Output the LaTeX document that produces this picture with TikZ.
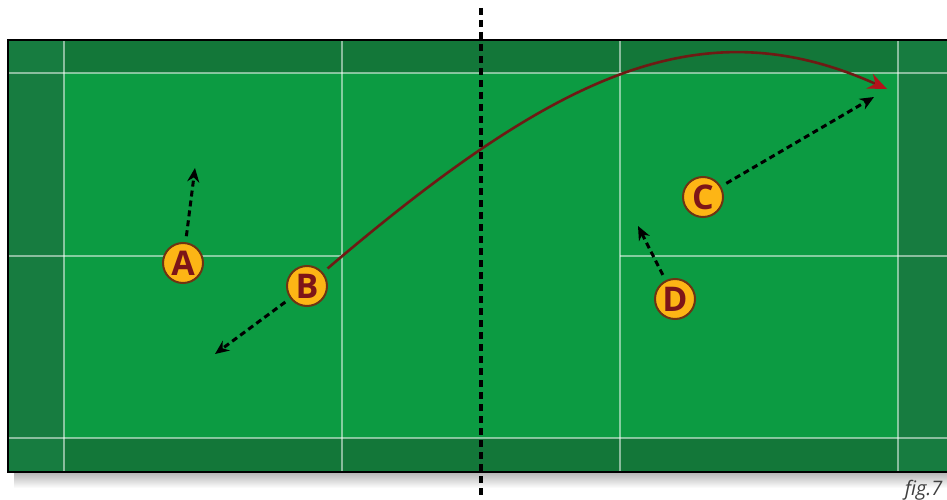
\documentclass[tikz,border=0pt]{standalone}
\usepackage{fontspec}
\setsansfont{Open Sans}
\usetikzlibrary{arrows.meta}
\definecolor{courtgreen}{HTML}{0C9B42}
\definecolor{bandgreen}{HTML}{177C40}
\definecolor{topgreen}{HTML}{137739}
\definecolor{playerfill}{HTML}{FDB515}
\definecolor{rimbrown}{HTML}{6E3413}
\definecolor{lettermaroon}{HTML}{7D1518}
\definecolor{shotred}{HTML}{6E1A14}
\definecolor{tipred}{HTML}{B3121A}
\tikzstyle{player} = [circle, minimum size=40pt, inner sep=0pt, draw=rimbrown, line width=2pt, fill=playerfill, text=lettermaroon, font=\sffamily\bfseries\fontsize{34}{34}\selectfont]
\tikzstyle{move} = [line width=3pt, dash pattern=on 6pt off 4pt, shorten <=6pt, -{Stealth[length=14pt,width=12pt]}]
\tikzstyle{shot} = [line width=2.6pt, shotred, shorten <=6pt, -{Stealth[length=19pt,width=16pt,color=tipred]}]
\tikzstyle{courtline} = [white, opacity=0.5, line width=1.4pt]
\tikzstyle{net} = [line width=4pt, dash pattern=on 7pt off 5pt]

\begin{document}
\begin{tikzpicture}[x=1pt, y=-1pt]
\useasboundingbox (0,0) rectangle (947,500);
% court
\shade[top color=black!30, bottom color=white] (14,472) rectangle (960,488);
\fill[courtgreen] (8,40) rectangle (960,472);
\fill[topgreen] (8,40) rectangle (960,73);
\fill[topgreen] (8,438) rectangle (960,472);
\fill[bandgreen] (8,40) rectangle (64,472);
\fill[bandgreen] (898,40) rectangle (960,472);
\draw[courtline] (8,73) -- (960,73);
\draw[courtline] (8,438) -- (960,438);
\draw[courtline] (8,256) -- (342,256);
\draw[courtline] (620,256) -- (960,256);
\foreach \x in {64,342,620,898}
  \draw[courtline] (\x,40) -- (\x,472);
\draw[line width=2.5pt] (960,40) -- (8,40) -- (8,472) -- (960,472);
% net
\draw[net] (481,8) -- (481,500);
% players
\node(A) [player] at (183,263) {A};
\node(B) [player] at (307,286) {B};
\node(C) [player] at (703,197) {C};
\node(D) [player] at (675,299) {D};
\coordinate(A-to) at (195,168);
\coordinate(B-to) at (215,354);
\coordinate(C-to) at (874,97);
\coordinate(D-to) at (638,226);
\coordinate(shot-to) at (887,89);
\draw[move] (A) -- (A-to);
\draw[move] (B) -- (B-to);
\draw[move] (C) -- (C-to);
\draw[move] (D) -- (D-to);
\draw[shot] (B) .. controls (558,72) and (702,6) .. (shot-to);
\node(figlabel) [anchor=base east, text=black!75, font=\sffamily\itshape\fontsize{20}{20}\selectfont] at (946,495) {fig.7};
\end{tikzpicture}
\end{document}
